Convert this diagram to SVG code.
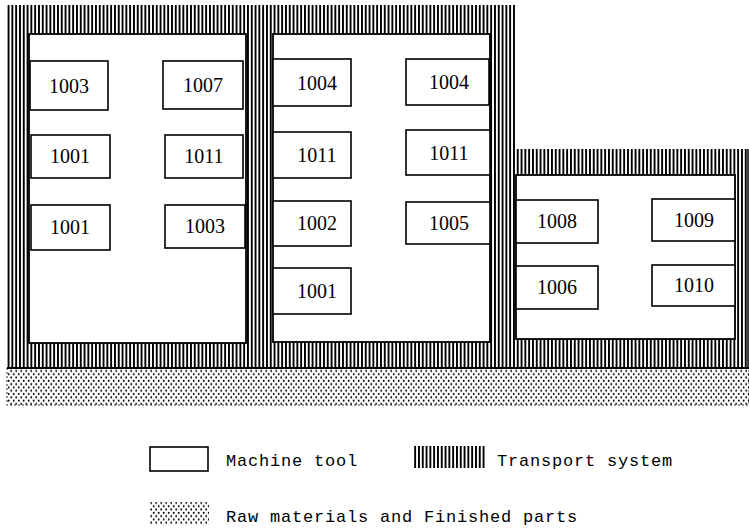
<svg xmlns="http://www.w3.org/2000/svg" width="749" height="528" viewBox="0 0 749 528">
<style>
.mt{fill:#fff;stroke:#000;stroke-width:1.6}
.inner{fill:#fff;stroke:#000;stroke-width:1.8}
.num{font-family:"Liberation Serif","Times New Roman",serif;font-size:20px;fill:#000;text-anchor:middle}
.leg{font-family:"Liberation Mono","Courier New",monospace;font-size:17px;letter-spacing:0.8px;fill:#000}
</style>
<defs>
<pattern id="hatch" patternUnits="userSpaceOnUse" width="3.8" height="10">
<rect x="0" y="0" width="1.9" height="10" fill="#000"/>
</pattern>
<pattern id="dots" patternUnits="userSpaceOnUse" width="5" height="6.6">
<circle cx="1.2" cy="1.3" r="0.95" fill="#000"/>
<circle cx="3.7" cy="4.6" r="0.95" fill="#000"/>
</pattern>
</defs>
<g id="transport">
<path d="M7 5 H516 V149 H748 V368 H7 Z" fill="url(#hatch)"/>
<line x1="748" y1="149" x2="748" y2="368" stroke="#000" stroke-width="1.5"/>
</g>
<g id="storage">
<rect x="7" y="368" width="742" height="37" fill="url(#dots)" stroke="#000" stroke-width="0.8" stroke-dasharray="2 2"/>
<line x1="7" y1="368" x2="749" y2="368" stroke="#000" stroke-width="1.8"/>
</g>
<g id="cell1">
<rect class="inner" x="29" y="34" width="217" height="309"/>
</g>
<g id="cell2">
<rect class="inner" x="273" y="34" width="217" height="308"/>
</g>
<g id="cell3">
<rect class="inner" x="516" y="175" width="219" height="164"/>
</g>
<g id="m1003a"><rect class="mt" x="30" y="61" width="78" height="49"/><text class="num" x="69" y="93">1003</text></g>
<g id="m1007"><rect class="mt" x="163" y="61" width="80" height="48"/><text class="num" x="203" y="92">1007</text></g>
<g id="m1001a"><rect class="mt" x="31" y="135" width="79" height="43"/><text class="num" x="70" y="163">1001</text></g>
<g id="m1011a"><rect class="mt" x="165" y="135" width="78" height="43"/><text class="num" x="204" y="163">1011</text></g>
<g id="m1001b"><rect class="mt" x="31" y="205" width="79" height="45"/><text class="num" x="70" y="234">1001</text></g>
<g id="m1003b"><rect class="mt" x="165" y="205" width="80" height="43"/><text class="num" x="205" y="233">1003</text></g>
<g id="m1004a"><rect class="mt" x="273" y="59" width="78" height="47"/><text class="num" x="317" y="90">1004</text></g>
<g id="m1004b"><rect class="mt" x="406" y="59" width="83" height="46"/><text class="num" x="449" y="89">1004</text></g>
<g id="m1011b"><rect class="mt" x="273" y="132" width="78" height="46"/><text class="num" x="317" y="162">1011</text></g>
<g id="m1011c"><rect class="mt" x="406" y="130" width="84" height="45"/><text class="num" x="449" y="160">1011</text></g>
<g id="m1002"><rect class="mt" x="273" y="201" width="78" height="45"/><text class="num" x="317" y="230">1002</text></g>
<g id="m1005"><rect class="mt" x="406" y="202" width="84" height="42"/><text class="num" x="449" y="230">1005</text></g>
<g id="m1001c"><rect class="mt" x="273" y="268" width="78" height="46"/><text class="num" x="317" y="298">1001</text></g>
<g id="m1008"><rect class="mt" x="516" y="200" width="82" height="43"/><text class="num" x="557" y="228">1008</text></g>
<g id="m1009"><rect class="mt" x="652" y="199" width="83" height="42"/><text class="num" x="694" y="227">1009</text></g>
<g id="m1006"><rect class="mt" x="516" y="266" width="82" height="43"/><text class="num" x="557" y="294">1006</text></g>
<g id="m1010"><rect class="mt" x="652" y="265" width="83" height="41"/><text class="num" x="694" y="292">1010</text></g>
<g id="legend">
<rect class="mt" x="150" y="447" width="58" height="24"/>
<text class="leg" x="226" y="466">Machine tool</text>
<rect x="413" y="446" width="72" height="22" fill="url(#hatch)"/>
<text class="leg" x="497" y="466">Transport system</text>
<rect x="150" y="502" width="59" height="23" fill="url(#dots)"/>
<text class="leg" x="226" y="522">Raw materials and Finished parts</text>
</g>
</svg>
